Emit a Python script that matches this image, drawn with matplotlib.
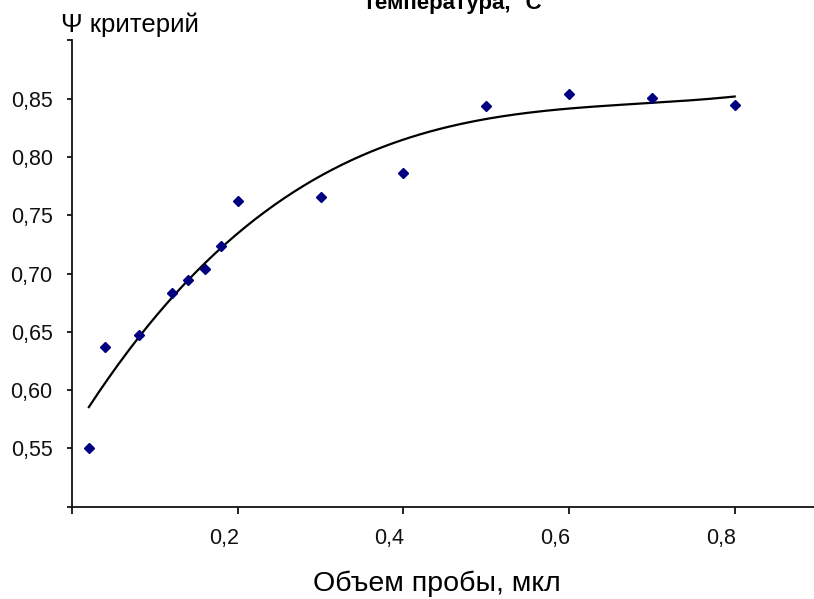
import numpy as np
import matplotlib
matplotlib.use("Agg")
import matplotlib.pyplot as plt
import matplotlib.transforms as mtransforms

plt.rcParams["font.family"] = ["Liberation Sans", "DejaVu Sans"]

# sample volume, ul
volume = [0.02, 0.04, 0.08, 0.12, 0.14, 0.16, 0.18, 0.20, 0.30, 0.40, 0.50, 0.60, 0.70, 0.80]
# psi criterion
psi = [0.550, 0.637, 0.647, 0.683, 0.694, 0.704, 0.724, 0.762, 0.766, 0.786, 0.844, 0.854, 0.851, 0.845]

x_ticks = [0.0, 0.2, 0.4, 0.6, 0.8]
x_labels = ["", "0,2", "0,4", "0,6", "0,8"]
y_ticks = [0.50, 0.55, 0.60, 0.65, 0.70, 0.75, 0.80, 0.85, 0.90]
y_labels = ["", "0,55", "0,60", "0,65", "0,70", "0,75", "0,80", "0,85", ""]

fig = plt.figure(figsize=(8.14, 5.99), dpi=100)
ax = fig.add_axes([0.0888, 0.1544, 0.9112, 0.778])

# polynomial trend line (order 3), like the spreadsheet trendline
coef = np.polyfit(volume, psi, 3)
xs = np.linspace(min(volume), max(volume), 200)
ax.plot(xs, np.polyval(coef, xs), color="black", linewidth=1.6, zorder=2)

ax.plot(volume, psi, linestyle="none", marker="D", markersize=5.5,
        color="#000080", zorder=3)

ax.set_xlim(0, 0.8958)
ax.set_ylim(0.5, 0.9)
ax.set_xticks(x_ticks)
ax.set_xticklabels(x_labels)
ax.set_yticks(y_ticks)
ax.set_yticklabels(y_labels)

for side in ["top", "right"]:
    ax.spines[side].set_visible(False)
for side in ["left", "bottom"]:
    ax.spines[side].set_linewidth(1.3)
    ax.spines[side].set_color("#111111")

ax.tick_params(axis="x", direction="out", length=5, width=1.3, pad=10.5, labelsize=15.5, colors="#111111")
ax.tick_params(axis="y", direction="out", length=3.6, width=1.3, pad=10.5, labelsize=15.5, colors="#111111")

# x labels sit a bit to the left of their ticks in the original
shift = mtransforms.ScaledTranslation(-14 / 100, 0, fig.dpi_scale_trans)
for lbl in ax.get_xticklabels():
    lbl.set_transform(lbl.get_transform() + shift)

fig.text(60.7 / 814, 1 - 31.7 / 599, "Ψ критерий", fontsize=18.5,
         ha="left", va="baseline")
fig.text(437 / 814, 1 - 571 / 599, "Объем пробы, мкл", fontsize=20.5,
         ha="center", va="top")
# title is cut by the top edge in the original
fig.text(453 / 814, 1 - 8.5 / 599, "температура, °С", fontsize=16,
         fontweight="bold", ha="center", va="baseline")

fig.savefig("out.png", dpi=100, facecolor="white")
